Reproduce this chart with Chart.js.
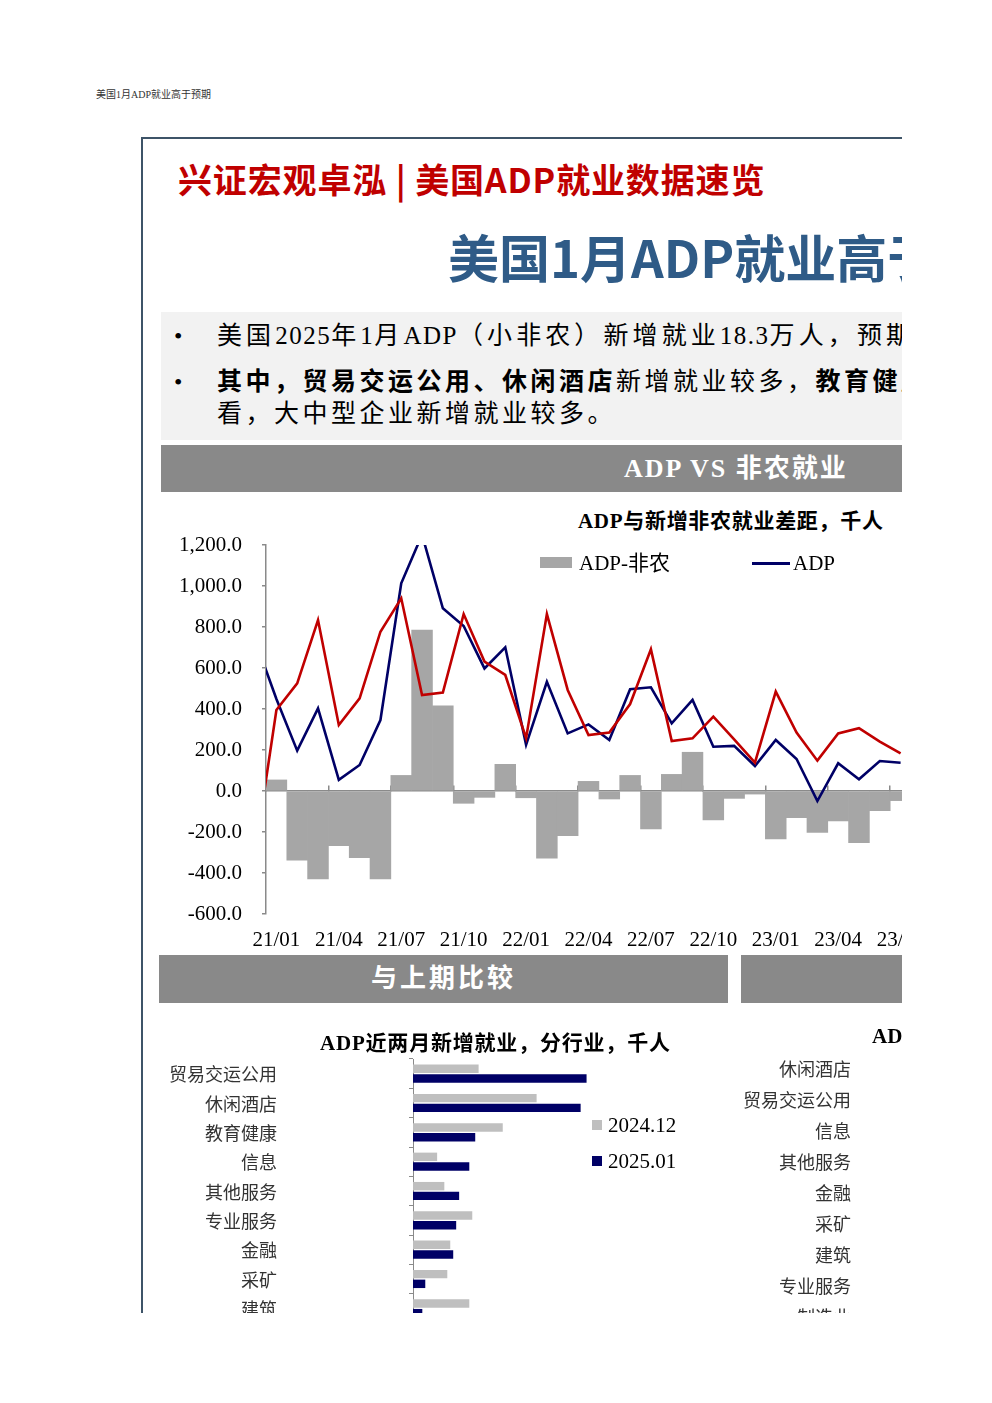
<!DOCTYPE html>
<html>
<head>
<meta charset="utf-8">
<script src="https://cdn.jsdelivr.net/npm/chart.js@4.4.1/dist/chart.umd.min.js"></script>
<style>
html,body{margin:0;padding:0;background:#fff;}
body{width:992px;height:1403px;position:relative;overflow:hidden;font-family:"Liberation Serif","Noto Sans CJK SC",serif;color:#000;}
.a{position:absolute;white-space:nowrap;}
#clip{position:absolute;left:0;top:0;width:902px;height:1313px;overflow:hidden;}
#frame{position:absolute;left:141px;top:137px;width:800px;height:1300px;border-left:2px solid #3e5468;border-top:2px solid #3e5468;}
.sans{font-family:"Noto Sans CJK SC","Noto Sans",sans-serif;font-weight:700;}
.bar{position:absolute;background:#898989;}
.hdr{color:#fff;font-weight:700;font-size:26px;line-height:30px;}
.lab{font-size:18px;line-height:22px;color:#333;text-align:right;width:200px;}
.lt{letter-spacing:1.5px;}
canvas{position:absolute;}
</style>
</head>
<body>
<div class="a" style="left:96px;top:89px;font-size:10px;line-height:12px;color:#333;">美国1月ADP就业高于预期</div>
<div id="clip">
  <div id="frame"></div>
  <div class="a sans" style="left:178px;top:158px;font-size:34px;line-height:42px;color:#c00000;letter-spacing:0.85px;">兴证宏观卓泓 | 美国ADP就业数据速览</div>
  <div class="a sans" style="left:448px;top:226px;font-size:51px;line-height:60px;color:#2f5b87;">美国1月ADP就业高于预期</div>

  <div class="a" style="left:161px;top:312px;width:760px;height:128px;background:#f2f2f2;"></div>
  <div class="a" style="left:174px;top:320px;font-size:24px;line-height:32px;">•</div>
  <div class="a" style="left:174px;top:366px;font-size:24px;line-height:32px;">•</div>
  <div class="a" style="left:217px;top:320px;font-size:25px;line-height:32px;letter-spacing:4.1px;">美国<span class="lt">2025</span>年<span class="lt">1</span>月<span class="lt">ADP</span>（小非农）新增就业<span class="lt">18.3</span>万人，预期</div>
  <div class="a" style="left:217px;top:366px;font-size:25px;line-height:32px;letter-spacing:3.5px;"><b>其中，贸易交运公用、休闲酒店</b>新增就业较多，<b>教育健康</b></div>
  <div class="a" style="left:217px;top:398px;font-size:25px;line-height:32px;letter-spacing:3.5px;">看，大中型企业新增就业较多。</div>

  <div class="bar" style="left:161px;top:445px;width:760px;height:47px;"></div>
  <div class="a hdr" style="left:624px;top:454px;letter-spacing:2px;">ADP VS 非农就业</div>

  <div class="a" style="left:578px;top:509px;font-size:21px;line-height:24px;font-weight:700;letter-spacing:0.7px;">ADP与新增非农就业差距，千人</div>
  <canvas id="c1" width="800" height="450" style="left:161px;top:500px;"></canvas>
  <div class="a" style="left:540px;top:557px;width:32px;height:11px;background:#a6a6a6;"></div>
  <div class="a" style="left:579px;top:551px;font-size:21px;line-height:24px;">ADP-非农</div>
  <div class="a" style="left:752px;top:562px;width:38px;height:2.5px;background:#000066;"></div>
  <div class="a" style="left:793px;top:551px;font-size:21px;line-height:24px;">ADP</div>
  <div class="a" style="left:964px;top:562px;width:38px;height:2.5px;background:#c00000;"></div>
  <div class="a" style="left:1005px;top:551px;font-size:21px;line-height:24px;">非农</div>

  <div class="bar" style="left:159px;top:955px;width:569px;height:48px;"></div>
  <div class="a hdr" style="left:159px;top:964px;width:569px;text-align:center;letter-spacing:3px;">与上期比较</div>
  <div class="bar" style="left:741px;top:955px;width:200px;height:48px;"></div>

  <canvas id="c2" width="570" height="324" style="left:159px;top:1029px;"></canvas>
  <div class="a" style="left:320px;top:1031px;font-size:21px;line-height:24px;font-weight:700;letter-spacing:0.8px;">ADP近两月新增就业，分行业，千人</div>
  <div class="a" style="left:592px;top:1120px;width:10px;height:10px;background:#bfbfbf;"></div>
  <div class="a" style="left:608px;top:1113px;font-size:21px;line-height:24px;">2024.12</div>
  <div class="a" style="left:592px;top:1156px;width:10px;height:10px;background:#000066;"></div>
  <div class="a" style="left:608px;top:1149px;font-size:21px;line-height:24px;">2025.01</div>

  <div class="a" style="left:872px;top:1024px;font-size:21px;line-height:24px;font-weight:700;">ADP</div>
  <div id="rlabels"></div>
</div>
<script>
// ===== Data =====
const months = ['20/12','21/01','21/02','21/03','21/04','21/05','21/06','21/07','21/08','21/09','21/10','21/11','21/12',
  '22/01','22/02','22/03','22/04','22/05','22/06','22/07','22/08','22/09','22/10','22/11','22/12',
  '23/01','23/02','23/03','23/04','23/05','23/06','23/07'];
const adpMinusNfp = [null, 54, -337, -429, -267, -325, -429, 76, 785, 415, -60, -31, 130,
  -33, -328, -218, 47, -39, 76, -185, 81, 189, -141, -36, -15,
  -234, -130, -202, -146, -252, -96, -47];
const adp = [731, 449, 197, 403, 54, 127, 346, 1013, 1250, 891, 805, 598, 701,
  225, 533, 281, 325, 249, 496, 506, 330, 444, 216, 220, 122,
  249, 156, -49, 135, 57, 146, 138];
const nfp = [-287, 395, 525, 834, 322, 452, 777, 940, 468, 480, 863, 631, 566,
  258, 863, 493, 273, 285, 424, 691, 244, 257, 363, 252, 138,
  485, 285, 148, 281, 306, 241, 184];
const tickMonths = ['01','04','07','10'];
const yMin = -600, yMax = 1200, yStep = 200;

const industries = ['贸易交运公用','休闲酒店','教育健康','信息','其他服务','专业服务','金融','采矿','建筑'];
const dec2024 = [15.5, 29.2, 21.2, 5.7, 7.4, 14.0, 8.8, 8.1, 13.3];
const jan2025 = [41.0, 39.6, 14.7, 13.3, 10.9, 10.2, 9.5, 2.9, 2.2];
const indMin = -30, indMax = 60;

const rightIndustries = ['休闲酒店','贸易交运公用','信息','其他服务','金融','采矿','建筑','专业服务','制造业'];

// ===== Right partial chart labels =====
const rl = document.getElementById('rlabels');
rightIndustries.forEach((t, i) => {
  const d = document.createElement('div');
  d.className = 'a lab';
  d.style.left = (851 - 200) + 'px';
  d.style.top = (1059 + i * 31) + 'px';
  d.textContent = t;
  rl.appendChild(d);
});

const serif = "'Liberation Serif','Noto Sans CJK SC',serif";
const axisGray = '#8a8a8a';
const fmt = v => Number(v).toLocaleString('en-US', {minimumFractionDigits: 1, maximumFractionDigits: 1});

new Chart(document.getElementById('c1'), {
  type: 'bar',
  data: {
    labels: months,
    datasets: [
      {type: 'line', label: '非农', data: nfp, borderColor: '#c00000', borderWidth: 2.6, pointRadius: 0, tension: 0, order: 1},
      {type: 'line', label: 'ADP', data: adp, borderColor: '#000066', borderWidth: 2.6, pointRadius: 0, tension: 0, order: 2},
      {type: 'bar', label: 'ADP-非农', data: adpMinusNfp, backgroundColor: '#a6a6a6', borderWidth: 0,
        barPercentage: 1, categoryPercentage: 1, order: 3}
    ]
  },
  options: {
    responsive: false, animation: false, devicePixelRatio: 1,
    layout: {padding: {top: 45, right: 50, bottom: 0, left: 0}},
    plugins: {legend: {display: false}, tooltip: {enabled: false}},
    scales: {
      x: {
        min: '21/01', offset: true,
        grid: {display: false, drawTicks: false}, border: {display: false},
        ticks: {autoSkip: false, maxRotation: 0, padding: 14, color: '#000', font: {family: serif, size: 21},
          callback: function (v) { const l = this.getLabelForValue(v); return tickMonths.includes(l.slice(3)) ? l : ''; }},
        afterFit: s => { s.height = 36; }
      },
      x2: {
        axis: 'x', type: 'category', position: {y: 0}, min: '21/01', offset: true,
        grid: {offset: true, drawOnChartArea: false, drawTicks: true, tickLength: -6, lineWidth: 1.5,
          color: ctx => (ctx.index !== undefined && ctx.index % 3 === 0) ? axisGray : 'rgba(0,0,0,0)'},
        border: {display: true, color: axisGray, width: 1.5},
        ticks: {display: false}
      },
      y: {
        min: yMin, max: yMax,
        ticks: {stepSize: yStep, padding: 20, color: '#000', font: {family: serif, size: 21}, callback: v => fmt(v)},
        grid: {drawOnChartArea: false, tickLength: 4, color: axisGray, lineWidth: 1.5},
        border: {color: axisGray, width: 1.5},
        afterFit: s => { s.width = 105; }
      }
    }
  }
});

new Chart(document.getElementById('c2'), {
  type: 'bar',
  data: {
    labels: industries,
    datasets: [
      {label: '2024.12', data: dec2024, backgroundColor: '#bfbfbf', borderWidth: 0},
      {label: '2025.01', data: jan2025, backgroundColor: '#000066', borderWidth: 0}
    ]
  },
  options: {
    indexAxis: 'y', responsive: false, animation: false, devicePixelRatio: 1,
    layout: {padding: {top: 30, right: 62, bottom: 30, left: 0}},
    datasets: {bar: {categoryPercentage: 0.66, barPercentage: 0.87}},
    plugins: {legend: {display: false}, tooltip: {enabled: false}},
    scales: {
      x: {display: false, min: indMin, max: indMax},
      y: {
        offset: true,
        grid: {display: false, drawTicks: false}, border: {display: false},
        ticks: {padding: 9, labelOffset: 3, color: '#333', font: {family: serif, size: 18}},
        afterFit: s => { s.width = 127; }
      },
      y2: {
        axis: 'y', type: 'category', position: {x: 0}, offset: true,
        grid: {offset: true, drawOnChartArea: false, drawTicks: true, tickLength: 4, color: axisGray},
        border: {display: true, color: axisGray},
        ticks: {display: false}
      }
    }
  }
});
</script>
</body>
</html>
